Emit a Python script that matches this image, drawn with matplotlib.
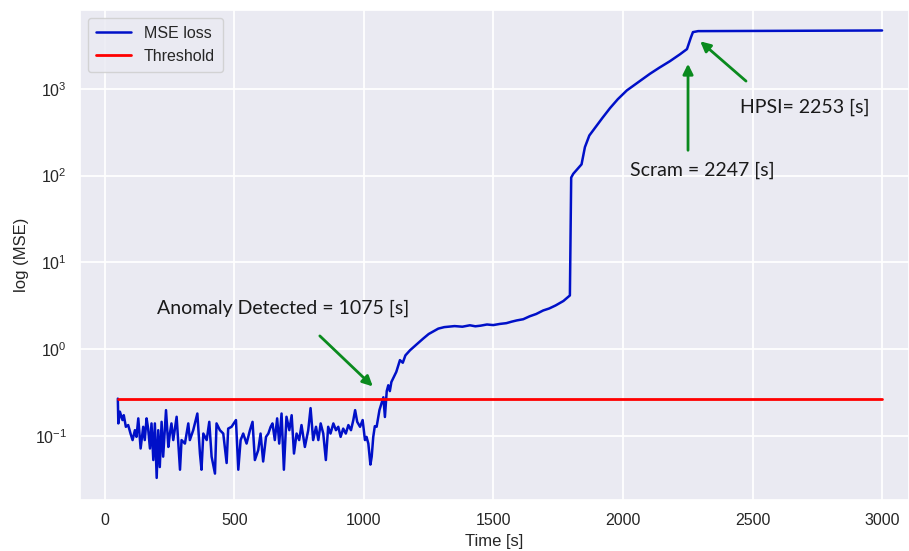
import numpy as np
import matplotlib
matplotlib.use("Agg")
import matplotlib.pyplot as plt
import seaborn as sns

sns.set_theme(style="darkgrid")
plt.rcParams['font.family'] = ['Liberation Sans', 'DejaVu Sans']

# MSE loss (time [s], loss)
time_s = [50, 52, 58, 68, 73, 81, 90, 99, 107, 116, 122, 129, 138, 148, 154, 161,
          167, 174, 180, 187, 193, 200, 206, 212, 219, 225, 236, 245, 251, 257,
          264, 277, 290, 296, 309, 322, 328, 341, 357, 367, 373, 380, 393, 403,
          412, 425, 431, 444, 457, 470, 476, 489, 506, 515, 524, 534, 547, 560,
          570, 579, 592, 601, 611, 622, 631, 640, 647, 656, 665, 673, 682, 691,
          701, 712, 721, 730, 740, 750, 759, 772, 785, 794, 804, 815, 824, 833,
          843, 853, 862, 871, 882, 892, 901, 910, 920, 930, 940, 950, 959, 966,
          974, 985, 995, 1004, 1010, 1017, 1025, 1030, 1036, 1042, 1049, 1060,
          1068, 1075, 1081, 1088, 1094, 1100, 1106, 1113, 1125, 1139, 1150, 1160,
          1178, 1190, 1205, 1229, 1250, 1270, 1287, 1310, 1350, 1380, 1409, 1430,
          1450, 1475, 1499, 1525, 1550, 1570, 1590, 1615, 1640, 1665, 1692, 1715,
          1740, 1770, 1795, 1800, 1808, 1840, 1853, 1870, 1892, 1920, 1950, 1980,
          2015, 2060, 2104, 2140, 2181, 2220, 2247, 2262, 2270, 2290, 2500, 3000]
mse = [0.27, 0.14, 0.191, 0.153, 0.174, 0.128, 0.134, 0.107, 0.090, 0.117, 0.098,
       0.160, 0.072, 0.128, 0.090, 0.160, 0.122, 0.072, 0.140, 0.053, 0.140, 0.033,
       0.117, 0.044, 0.146, 0.058, 0.199, 0.075, 0.107, 0.140, 0.090, 0.167, 0.041,
       0.090, 0.082, 0.140, 0.090, 0.117, 0.182, 0.063, 0.041, 0.107, 0.090, 0.146,
       0.058, 0.037, 0.140, 0.117, 0.107, 0.049, 0.122, 0.128, 0.153, 0.041, 0.090,
       0.107, 0.082, 0.117, 0.146, 0.053, 0.069, 0.107, 0.051, 0.098, 0.107, 0.128,
       0.140, 0.090, 0.160, 0.082, 0.182, 0.041, 0.167, 0.117, 0.174, 0.063, 0.107,
       0.090, 0.134, 0.075, 0.117, 0.210, 0.090, 0.128, 0.090, 0.140, 0.107, 0.053,
       0.128, 0.107, 0.140, 0.117, 0.128, 0.098, 0.122, 0.107, 0.134, 0.117, 0.153,
       0.199, 0.146, 0.128, 0.153, 0.090, 0.098, 0.082, 0.047, 0.058, 0.098, 0.13,
       0.128, 0.20, 0.24, 0.28, 0.166, 0.33, 0.385, 0.33, 0.42, 0.465, 0.55, 0.75,
       0.70, 0.85, 0.975, 1.05, 1.15, 1.33, 1.5, 1.62, 1.73, 1.80, 1.85, 1.82, 1.89,
       1.84, 1.87, 1.93, 1.90, 1.96, 2.0, 2.08, 2.15, 2.22, 2.4, 2.55, 2.8, 2.95,
       3.2, 3.6, 4.17, 95, 105, 135, 213, 290, 355, 460, 600, 760, 960, 1200, 1490,
       1750, 2080, 2500, 2870, 3900, 4500, 4620, 4640, 4700]

threshold = 0.27
thr_t = [50, 3000]

fig = plt.figure(figsize=(9.09, 5.51), dpi=100)
ax = fig.add_axes([80/909, 51/551, 829/909, 490/551])

ax.plot(time_s, mse, color='#0010c8', lw=1.8, label='MSE loss')
ax.plot(thr_t, [threshold, threshold], color='red', lw=2, label='Threshold')

ax.set_yscale('log')
ax.set_xlim(-96, 3104)
ax.set_ylim(10**-1.736, 10**3.908)
ax.set_xticks([0, 500, 1000, 1500, 2000, 2500, 3000])
ax.tick_params(labelsize=11.5)
ax.set_xlabel('Time [s]', fontsize=12, labelpad=4)
ax.set_ylabel('log (MSE)', fontsize=12)
ax.grid(True, which='major', color='white', lw=1.3)
ax.grid(False, which='minor')

ax.legend(loc='upper left', fontsize=11.5, handlelength=2.2, borderpad=0.5,
          bbox_to_anchor=(0.0, 1.0))

arr = dict(arrowstyle='-|>', color='#0a8a1e', lw=2, mutation_scale=15)
txt = dict(fontsize=14, family=['Lato', 'DejaVu Sans'], color='#1a1a1a')

ax.annotate('', xy=(1042, 0.355), xytext=(822, 1.5), arrowprops=arr)
ax.text(200, 3.0, 'Anomaly Detected = 1075 [s]', va='center', **txt)

ax.annotate('', xy=(2251, 2090), xytext=(2251, 182), arrowprops=arr)
ax.text(2027, 115, 'Scram = 2247 [s]', va='center', **txt)

ax.annotate('', xy=(2290, 3700), xytext=(2483, 1170), arrowprops=arr)
ax.text(2452, 620, 'HPSI= 2253 [s]', va='center', **txt)

fig.savefig('out.png', dpi=100)
